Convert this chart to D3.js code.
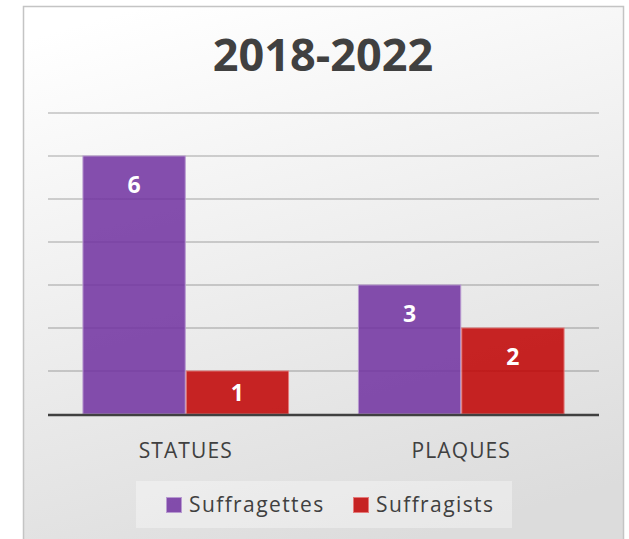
<!DOCTYPE html>
<html>
<head>
<meta charset="utf-8">
<script src="https://cdn.jsdelivr.net/npm/d3@7"></script>
<style>
  body { margin: 0; background: #fff; }
  text { font-family: "Open Sans", sans-serif; }
</style>
</head>
<body>
<div id="chart"></div>
<script>
const title = '2018-2022';
const categories = ['STATUES', 'PLAQUES'];
const seriesNames = ['Suffragettes', 'Suffragists'];
const suffragettes = [6, 3];
const suffragists = [1, 2];
const yTicks = [1, 2, 3, 4, 5, 6, 7];

const colors = ['#7030a0', '#c00000'];
const borders = ['#b89ad0', '#e47a7a'];

const width = 629;
const height = 539;

const svg = d3.select('#chart')
.append('svg')
.attr('width', width)
.attr('height', height);

const defs = svg.append('defs');
const grad = defs.append('linearGradient')
.attr('id', 'bg')
.attr('x1', '0.2').attr('y1', '0')
.attr('x2', '0.5').attr('y2', '1');
grad.append('stop').attr('offset', '0').attr('stop-color', '#ffffff');
grad.append('stop').attr('offset', '1').attr('stop-color', '#dcdcdc');

svg.append('rect')
.attr('x', 23.5)
.attr('y', 6.5)
.attr('width', 600)
.attr('height', 560)
.attr('fill', 'url(#bg)')
.attr('stroke', '#c4c4c4')
.attr('stroke-width', 1.5);

svg.append('text')
.attr('x', 323)
.attr('y', 71)
.attr('text-anchor', 'middle')
.attr('font-size', 45)
.attr('font-weight', 700)
.attr('fill', '#404040')
.text(title);

const scaleX = d3.scaleBand()
.domain(categories)
.range([48, 599])
.paddingInner(0.25)
.paddingOuter(0.125);

const scaleSeries = d3.scaleBand()
.domain(seriesNames)
.range([0, scaleX.bandwidth()]);

const scaleY = d3.scaleLinear()
.domain([0, 7])
.range([414, 113]);

const grid = svg.append('g');
grid.selectAll('line')
.data(yTicks)
.join('line')
.attr('x1', 48)
.attr('x2', 599)
.attr('y1', d => scaleY(d))
.attr('y2', d => scaleY(d))
.attr('stroke', '#000')
.attr('stroke-opacity', 0.22)
.attr('stroke-width', 1.5);

const data = [];
categories.forEach((c, i) => {
  data.push({cat: c, series: seriesNames[0], value: suffragettes[i], k: 0});
  data.push({cat: c, series: seriesNames[1], value: suffragists[i], k: 1});
});

const bars = svg.append('g');
bars.selectAll('rect')
.data(data)
.join('rect')
.attr('x', d => scaleX(d.cat) + scaleSeries(d.series) + 0.5)
.attr('y', d => scaleY(d.value))
.attr('width', scaleSeries.bandwidth() - 1)
.attr('height', d => scaleY(0) - scaleY(d.value))
.attr('fill', d => colors[d.k])
.attr('fill-opacity', 0.85)
.attr('stroke', d => borders[d.k])
.attr('stroke-width', 1);

bars.selectAll('text')
.data(data)
.join('text')
.attr('x', d => scaleX(d.cat) + scaleSeries(d.series) + scaleSeries.bandwidth() / 2)
.attr('y', d => {
  const h = scaleY(0) - scaleY(d.value);
  return h < 60 ? scaleY(d.value) + h / 2 + 8 : scaleY(d.value) + 37;
})
.attr('text-anchor', 'middle')
.attr('font-size', 23)
.attr('font-weight', 700)
.attr('fill', '#fff')
.text(d => d.value);

svg.append('line')
.attr('x1', 48)
.attr('x2', 599)
.attr('y1', scaleY(0) + 1)
.attr('y2', scaleY(0) + 1)
.attr('stroke', '#404040')
.attr('stroke-width', 2.5);

const axisX = d3.axisBottom(scaleX).tickSize(0).tickPadding(0);
const gx = svg.append('g')
.attr('transform', 'translate(0, 443)')
.call(axisX);
gx.select('.domain').remove();
gx.selectAll('text')
.attr('dy', '0.71em')
.attr('font-size', 21)
.attr('letter-spacing', 1.1)
.attr('font-family', '"Open Sans", sans-serif')
.attr('fill', '#404040');

const legend = svg.append('g');
legend.append('rect')
.attr('x', 136)
.attr('y', 481)
.attr('width', 376)
.attr('height', 47)
.attr('fill', '#fff')
.attr('fill-opacity', 0.35);

const legendX = [166, 353];
const items = legend.selectAll('g.item')
.data(seriesNames)
.join('g')
.attr('class', 'item')
.attr('transform', (d, i) => `translate(${legendX[i]}, 497)`);

items.append('rect')
.attr('x', 0.5)
.attr('y', 0.5)
.attr('width', 15)
.attr('height', 15)
.attr('fill', (d, i) => colors[i])
.attr('fill-opacity', 0.85)
.attr('stroke', (d, i) => borders[i]);

items.append('text')
.attr('x', 23)
.attr('y', 15)
.attr('font-size', 21)
.attr('letter-spacing', 1.4)
.attr('fill', '#404040')
.text(d => d);
</script>
</body>
</html>
